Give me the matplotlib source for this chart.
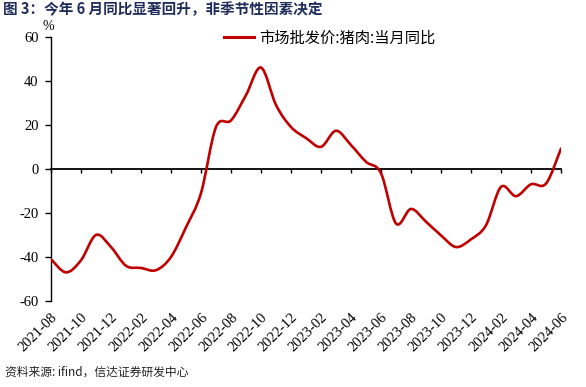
import numpy as np
import pandas as pd
import matplotlib
matplotlib.use("Agg")
import matplotlib.pyplot as plt
from matplotlib.path import Path
from matplotlib.patches import PathPatch
from matplotlib.lines import Line2D

plt.rcParams['font.family'] = ['Liberation Serif', 'Noto Sans CJK SC']

# monthly yoy of pork wholesale price, 2021-08 .. 2024-06
months = pd.period_range("2021-08", "2024-06", freq="M").strftime("%Y-%m").tolist()
pork_yoy = [-41.0, -47.0, -41.5, -30.0, -35.5, -44.0, -45.0, -46.0, -40.0,
            -26.5, -11.0, 19.0, 22.0, 33.5, 46.0, 29.0, 19.0, 14.0, 10.0,
            17.3, 10.8, 3.2, -2.0, -24.8, -18.2, -24.0, -30.2, -35.5, -32.0,
            -25.6, -8.2, -12.4, -7.0, -6.7, 9.2]
tick_idx = list(range(0, len(months), 2))
tick_labels = [months[i] for i in tick_idx]
y_ticks = [-60, -40, -20, 0, 20, 40, 60]

RED = "#C00000"
NAVY = "#1F2D5A"
CJK = ['Noto Sans CJK SC', 'DejaVu Sans']


def smooth_path(x, y):
    """Excel-style smoothed line as cubic Bezier segments."""
    p = np.column_stack([x, y]).astype(float)
    n = len(p)
    verts = [p[0]]
    codes = [Path.MOVETO]
    for i in range(n - 1):
        p0 = p[i - 1] if i > 0 else p[i]
        p3 = p[i + 2] if i + 2 < n else p[i + 1]
        c1 = p[i] + (p[i + 1] - p0) / 6.0
        c2 = p[i + 1] - (p3 - p[i]) / 6.0
        verts += [c1, c2, p[i + 1]]
        codes += [Path.CURVE4] * 3
    return Path(verts, codes)


fig = plt.figure(figsize=(5.86, 3.87), dpi=100)
ax = fig.add_axes([51 / 586, 1 - 301 / 387, 510 / 586, (301 - 36.7) / 387])

x = np.arange(len(months))
ax.add_patch(PathPatch(smooth_path(x, pork_yoy), facecolor="none",
                       edgecolor=RED, lw=1.9, capstyle="round", zorder=3))

ax.set_xlim(0, len(months) - 1)
ax.set_ylim(-60, 60)
for s in ["top", "right", "bottom"]:
    ax.spines[s].set_visible(False)
ax.spines["left"].set_linewidth(1.0)

ax.set_yticks(y_ticks)
ax.set_yticklabels([str(v) for v in y_ticks])
ax.tick_params(axis="y", direction="out", length=4, width=1, labelsize=10.5, pad=5)

ax.set_xticks(tick_idx)
ax.set_xticklabels(tick_labels, rotation=45, ha="right", va="top",
                   rotation_mode="anchor", fontsize=10.5)
ax.tick_params(axis="x", length=0, pad=7)

# zero line with its own ticks
sec = ax.secondary_xaxis(0.5)
sec.set_alignment("bottom")
sec.set_xticks(tick_idx)
sec.set_xticklabels([])
sec.tick_params(direction="out", length=3, width=1)
sec.spines["bottom"].set_linewidth(1.3)

handle = Line2D([], [], color=RED, lw=2.2)
fig.legend([handle], ["市场批发价:猪肉:当月同比"], loc="center left",
           bbox_to_anchor=(216 / 586, 1 - 38 / 387), frameon=False,
           borderpad=0, handlelength=2.0, handletextpad=0.35,
           prop={"family": CJK, "size": 11})

fig.text(48 / 586, 1 - 27 / 387, "%", ha="center", va="center", fontsize=10)
fig.text(3 / 586, 1 - 9 / 387, "图 3：今年 6 月同比显著回升，非季节性因素决定",
         ha="left", va="center", fontsize=10.5, weight="bold", color=NAVY,
         family=CJK)
fig.text(5 / 586, 1 - 372 / 387, "资料来源: ifind，信达证券研发中心",
         ha="left", va="center", fontsize=8.5, color="#222222", family=CJK)

fig.savefig("out.png", dpi=100)
